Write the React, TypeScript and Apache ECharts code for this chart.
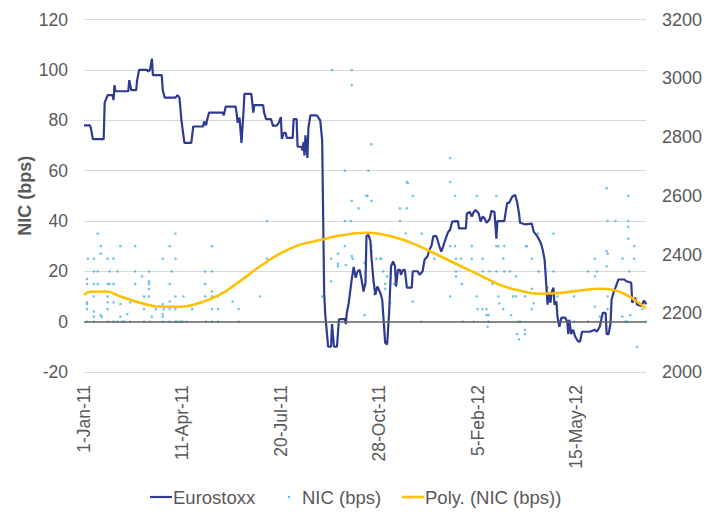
import React, { useEffect, useRef } from 'react';
import * as echarts from 'echarts';

// x values are day offsets from 1-Jan-2011
const xTickDays = [0, 100, 200, 300, 400, 500];
const leftTicks = { min: -20, max: 120, step: 20 };
const rightTicks = { min: 2000, max: 3200, step: 200 };

// Eurostoxx index level (right axis)
const eurostoxx: [number, number][] = [
  [0, 2840], [6, 2840], [7, 2831], [9, 2793], [20, 2793], [21, 2917], [22, 2926], [24, 2943], [29, 2943], [30, 2926],
  [31, 2977], [32, 2956], [45, 2956], [46, 2994], [48, 2960], [53, 2960], [54, 2994], [56, 3029], [64, 3029], [65, 3023],
  [67, 3029], [69, 3067], [70, 3011], [79, 3011], [80, 2960], [82, 2934], [93, 2934], [95, 2943], [97, 2934], [99, 2857],
  [102, 2780], [109, 2780], [111, 2836], [121, 2836], [122, 2853], [124, 2840], [125, 2857], [127, 2883], [141, 2883], [142, 2874],
  [144, 2904], [154, 2904], [155, 2883], [156, 2849], [158, 2866], [160, 2780], [162, 2883], [163, 2947], [170, 2947], [172, 2883],
  [173, 2909], [182, 2909], [183, 2883], [185, 2861], [190, 2861], [192, 2838], [196, 2840], [198, 2849], [200, 2868], [201, 2794],
  [203, 2814], [205, 2814], [206, 2797], [212, 2797], [213, 2861], [216, 2861], [217, 2767], [221, 2767], [222, 2754], [223, 2783],
  [224, 2737], [225, 2806], [227, 2729], [228, 2831], [230, 2874], [236, 2874], [237, 2872], [240, 2857], [242, 2789], [244, 2270],
  [245, 2201], [246, 2163], [248, 2086], [251, 2086], [252, 2163], [254, 2086], [257, 2086], [259, 2178], [260, 2180], [265, 2180],
  [266, 2163], [267, 2201], [269, 2236], [272, 2315], [274, 2358], [276, 2321], [278, 2343], [280, 2348], [282, 2315], [284, 2274],
  [286, 2304], [287, 2463], [289, 2467], [291, 2446], [292, 2394], [294, 2315], [296, 2263], [298, 2291], [301, 2270], [303, 2246],
  [306, 2099], [308, 2094], [310, 2201], [312, 2360], [314, 2377], [316, 2360], [317, 2291], [319, 2348], [321, 2348], [322, 2331],
  [324, 2347], [326, 2348], [328, 2287], [333, 2287], [334, 2343], [339, 2343], [341, 2331], [344, 2343], [346, 2382], [349, 2394],
  [351, 2417], [353, 2429], [355, 2463], [358, 2463], [361, 2429], [363, 2410], [365, 2429], [368, 2459], [370, 2477], [372, 2484],
  [374, 2512], [380, 2514], [381, 2489], [388, 2489], [389, 2540], [392, 2545], [394, 2529], [396, 2545], [398, 2552], [401, 2540],
  [403, 2512], [405, 2529], [407, 2523], [409, 2508], [412, 2519], [414, 2549], [417, 2545], [419, 2454], [420, 2514], [427, 2514],
  [429, 2557], [430, 2576], [432, 2576], [435, 2597], [438, 2603], [440, 2579], [442, 2540], [443, 2508], [448, 2503], [455, 2505],
  [457, 2477], [461, 2460], [464, 2440], [466, 2417], [468, 2382], [469, 2332], [470, 2280], [471, 2229], [472, 2270], [474, 2236],
  [475, 2270], [477, 2287], [478, 2229], [480, 2240], [481, 2189], [483, 2154], [485, 2185], [489, 2185], [491, 2171], [492, 2129],
  [493, 2178], [495, 2129], [497, 2144], [499, 2121], [502, 2104], [504, 2104], [506, 2137], [514, 2137], [519, 2144], [521, 2137],
  [524, 2154], [527, 2201], [530, 2201], [531, 2129], [533, 2129], [535, 2167], [536, 2246], [538, 2270], [540, 2287], [543, 2315],
  [549, 2315], [551, 2309], [556, 2304], [557, 2236], [560, 2253], [562, 2229], [566, 2225], [569, 2243], [571, 2231],
];

// NIC (bps) observations (left axis)
const nic: [number, number][] = [
  [3, 17], [3, 15], [3, 7.7], [3, 7], [3, 5], [3, 0], [4, 25],
  [10, 25], [10, 20], [10, 15], [10, 10], [10, 4], [10, 2], [10, 0],
  [14, 35], [14, 20], [14, 15], [17, 30], [17, 27], [17, 2.6], [18, 2],
  [24, 25], [24, 15], [24, 10], [24, 7.7], [24, 5], [24, 0], [26, 20], [26, 15],
  [30, 25], [30, 15], [30, 7.7], [30, 0], [34, 20], [34, 0], [37, 30], [37, 7], [37, 2],
  [39, 0], [41, 0], [44, 3], [47, 7.7], [47, 0], [52, 30], [52, 20], [52, 15], [59, 18],
  [61, 10], [61, 5], [61, 0], [66, 20], [66, 16], [66, 15], [66, 13], [66, 10], [67, 0], [69, 2], [73, 5],
  [80, 25], [80, 7], [80, 3], [80, 2], [80, 0], [81, 5], [87, 30], [87, 15], [87, 8], [87, 5], [87, 0], [89, 20],
  [93, 35], [93, 25], [93, 10], [93, 5], [93, 0], [95, 0], [98, 0], [100, 0], [104, 0], [101, 10], [110, 5],
  [123, 20], [123, 15], [123, 10], [124, 0], [130, 30], [130, 20], [130, 12], [130, 10], [130, 5], [130, 0],
  [136, 10], [136, 5], [136, 0], [151, 8], [157, 5], [157, 0], [179, 10], [186, 40], [186, 25], [242, 10],
  [251, 25], [251, 16], [252, 100], [258, 27], [258, 23], [258, 22], [265, 60], [265, 40], [265, 30], [266, 22.5],
  [271, 40], [272, 100], [272, 94], [272, 48], [272, 26], [273, 25], [279, 45], [285, 23.4], [285, 2.6],
  [287, 50], [288, 50], [289, 60], [292, 70.5], [292, 48], [292, 30], [292, 28], [295, 10.8], [297, 25],
  [301, 25], [302, 25], [304, 20], [306, 15], [306, 13], [308, 18], [311, 7.3], [315, 15], [321, 45], [321, 40],
  [327, 35], [328, 55.5], [328, 45], [329, 55], [334, 50], [334, 8], [343, 35], [343, 0], [356, 25],
  [372, 65], [372, 55.5], [372, 30], [372, 10], [377, 50], [377, 40], [377, 30], [378, 25], [378, 20], [378, 18],
  [383, 25], [384, 15], [385, 0], [394, 30], [394, 25], [396, 0], [399, 50], [399, 10], [400, 5],
  [405, 25], [405, 20], [405, 5], [411, 0], [411, 2.6], [409, 5], [409, 2.6], [410, -2], [412, 20],
  [419, 50], [419, 30], [421, 30], [419, 20], [415, 15], [421, 10], [422, 7.3], [426, 25], [427, 30], [427, 20], [426, 5],
  [433, 20], [434, 2.6], [439, 18], [436, 10], [439, 10], [441, 0], [443, 0], [440, -5], [442, -7],
  [448, 10], [448, -3.3], [448, -5], [449, 30], [450, 30], [455, 25], [455, 13], [455, 5], [457, 7.3],
  [461, 35], [462, 20], [477, 35], [477, 20], [471, 13.6], [474, 10], [481, 10], [498, 10], [498, 0],
  [512, 20], [512, 0], [519, 25], [519, 18], [519, 6], [521, 20], [524, 2], [531, 53], [531, 28], [532, 27], [531, 22],
  [532, 40], [532, 10], [532, 5], [540, 40], [547, 25], [547, 2], [550, 0], [552, 0],
  [553, 50], [553, 40], [553, 37.7], [553, 33], [554, 20], [555, 2.6], [559, 30], [559, 25], [562, -10], [567, 5],
  [571, 7.3], [571, 0],
];

// Polynomial trendline of NIC (bps)
const polyTrend: [number, number][] = [
  [0, 10.7], [6, 11.9], [23, 12], [37, 10], [57, 7.5], [77, 6], [97, 5.9], [118, 7.5], [138, 10.7], [158, 16],
  [179, 22], [199, 27], [219, 30.5], [240, 32.4], [260, 34.2], [287, 35.3], [300, 34.9], [321, 32.9], [341, 29.9],
  [361, 26.2], [382, 22.2], [402, 18.5], [422, 14.7], [443, 12.3], [463, 11.1], [483, 11.4], [504, 12.4], [524, 13.1],
  [537, 12.7], [551, 10.7], [565, 7.1], [571, 5.2],
];

const X_MAX = 571;
const START = Date.UTC(2011, 0, 1);
const MONTHS = ['Jan', 'Feb', 'Mar', 'Apr', 'May', 'Jun', 'Jul', 'Aug', 'Sep', 'Oct', 'Nov', 'Dec'];
function dayLabel(d: number): string {
  const dt = new Date(START + d * 86400000);
  return `${dt.getUTCDate()}-${MONTHS[dt.getUTCMonth()]}-${String(dt.getUTCFullYear()).slice(2)}`;
}

const FONT = '"Liberation Sans", Arial, sans-serif';
const GREY = '#595959';
const NAVY = '#2f3b93';
const SKY = '#4db4e6';
const GOLD = '#ffc000';

export default function App() {
  const ref = useRef<HTMLDivElement>(null);
  useEffect(() => {
    document.body.style.margin = '0';
    if (!ref.current) return;
    const chart = echarts.init(ref.current, null, { renderer: 'svg' });
    const legendY = 497;
    chart.setOption({
      animation: false,
      backgroundColor: '#ffffff',
      grid: { left: 84, right: 73, top: 19.6, bottom: 140, containLabel: false },
      xAxis: {
        type: 'value',
        min: 0,
        max: X_MAX,
        interval: 100,
        axisLine: { show: false },
        axisTick: { show: false },
        splitLine: { show: false },
        axisLabel: {
          rotate: 90,
          margin: 13,
          fontSize: 17.5,
          color: GREY,
          fontFamily: FONT,
          showMaxLabel: false,
          formatter: (v: number) => (xTickDays.includes(v) ? dayLabel(v) : ''),
        },
      },
      yAxis: [
        {
          type: 'value',
          min: leftTicks.min,
          max: leftTicks.max,
          interval: leftTicks.step,
          name: 'NIC (bps)',
          nameLocation: 'middle',
          nameGap: 50,
          nameMoveOverlap: false,
          nameTextStyle: { fontSize: 18, fontWeight: 'bold', color: GREY, fontFamily: FONT },
          axisLine: { show: false },
          axisTick: { show: false },
          axisLabel: { fontSize: 17.5, color: GREY, fontFamily: FONT, margin: 16 },
          splitLine: { show: true, lineStyle: { color: '#d9d9d9', width: 1 } },
        },
        {
          type: 'value',
          min: rightTicks.min,
          max: rightTicks.max,
          interval: rightTicks.step,
          position: 'right',
          axisLine: { show: false },
          axisTick: { show: false },
          axisLabel: { fontSize: 18, color: GREY, fontFamily: FONT, margin: 16, formatter: (v: number) => String(v) },
          splitLine: { show: false },
        },
      ],
      series: [
        {
          name: 'NIC (bps)',
          type: 'scatter',
          yAxisIndex: 0,
          data: nic,
          symbol: 'circle',
          symbolSize: 2.6,
          itemStyle: { color: SKY },
          z: 2,
          silent: true,
          markLine: {
            silent: true,
            symbol: 'none',
            label: { show: false },
            lineStyle: { color: '#666666', width: 1.6, type: 'solid' },
            data: [{ yAxis: 0 }],
          },
        },
        {
          name: 'Eurostoxx',
          type: 'line',
          yAxisIndex: 1,
          data: eurostoxx,
          showSymbol: false,
          symbol: 'none',
          lineStyle: { color: NAVY, width: 2.2 },
          z: 3,
          silent: true,
        },
        {
          name: 'Poly. (NIC (bps))',
          type: 'line',
          yAxisIndex: 0,
          data: polyTrend,
          smooth: 0.4,
          showSymbol: false,
          symbol: 'none',
          lineStyle: { color: GOLD, width: 2.6 },
          z: 4,
          silent: true,
        },
      ],
      graphic: [
        { type: 'line', shape: { x1: 150, y1: legendY, x2: 172, y2: legendY }, style: { stroke: NAVY, lineWidth: 2.2 } },
        { type: 'text', x: 173, y: legendY, style: { text: 'Eurostoxx', fontSize: 18.5, fill: GREY, fontFamily: FONT, verticalAlign: 'middle' } },
        { type: 'circle', shape: { cx: 289, cy: legendY, r: 1.2 }, style: { fill: SKY } },
        { type: 'text', x: 302, y: legendY, style: { text: 'NIC (bps)', fontSize: 18.5, fill: GREY, fontFamily: FONT, verticalAlign: 'middle' } },
        { type: 'line', shape: { x1: 402, y1: legendY, x2: 424, y2: legendY }, style: { stroke: GOLD, lineWidth: 2.6 } },
        { type: 'text', x: 425, y: legendY, style: { text: 'Poly. (NIC (bps))', fontSize: 18.5, fill: GREY, fontFamily: FONT, verticalAlign: 'middle' } },
      ],
    });
    return () => chart.dispose();
  }, []);
  return <div ref={ref} style={{ width: 719, height: 512 }} />;
}
